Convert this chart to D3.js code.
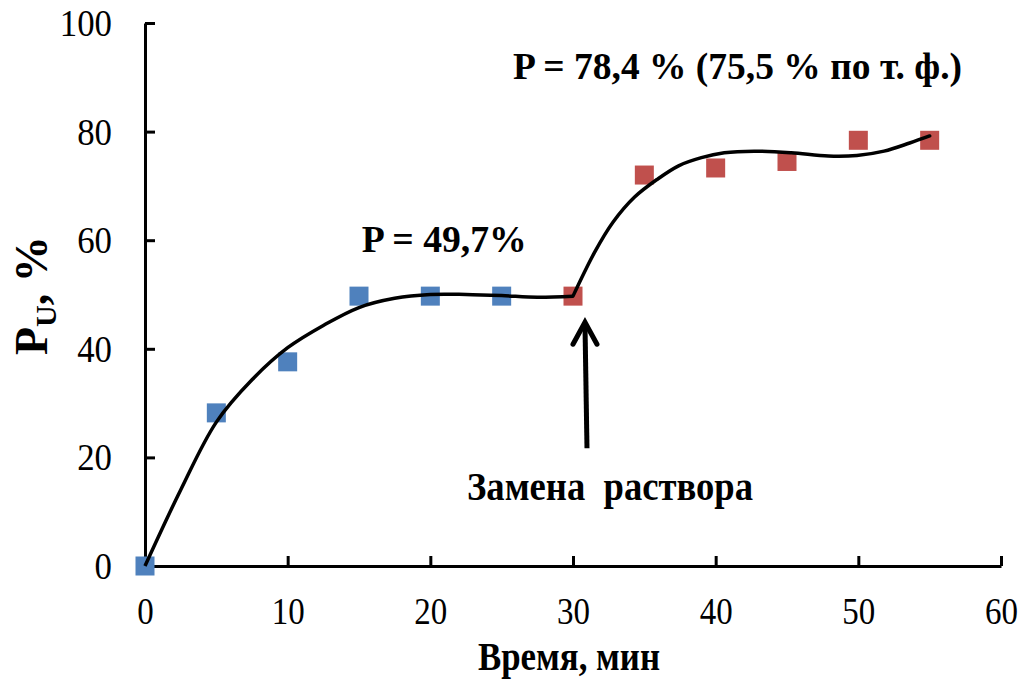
<!DOCTYPE html>
<html>
<head>
<meta charset="utf-8">
<script src="https://cdn.jsdelivr.net/npm/d3@7"></script>
<style>
  body { margin: 0; background: #fff; }
  text { font-family: "Liberation Serif", "Times New Roman", serif; }
</style>
</head>
<body>
<div id="container"></div>
<script>
// measured points
var blueTime = [0, 5, 10, 15, 20, 25]
var blueValue = [0, 28.2, 37.6, 49.7, 49.7, 49.7]
var redTime = [30, 35, 40, 45, 50, 55]
var redValue = [49.7, 72.0, 73.3, 74.5, 78.4, 78.4]

// trend lines
var trend1Time = [0, 2.5, 5, 7.5, 10, 12.5, 15, 17.5, 20, 22.5, 25, 27.5, 30]
var trend1Value = [0, 14, 26.5, 34.3, 40.2, 44.3, 47.6, 49.3, 50.0, 50.0, 49.8, 49.5, 49.7]
var trend2Time = [30, 31.5, 32.8, 34.3, 35.9, 37.4, 39, 40.6, 42.7, 45.3, 47.9, 49.9, 51.8, 53.6, 55]
var trend2Value = [49.7, 57.7, 63.3, 67.9, 71.2, 73.7, 75.2, 76.1, 76.4, 76.1, 75.5, 75.6, 76.4, 77.9, 79.2]

var xTicks = [0, 10, 20, 30, 40, 50, 60]
var yTicks = [0, 20, 40, 60, 80, 100]

main()

function main() {
    const width = 1025
    const height = 681

    const x = d3.scaleLinear()
        .domain([0, 60])
        .range([145, 1001])

    const y = d3.scaleLinear()
        .domain([0, 100])
        .range([566, 23])

    const svg = d3.create("svg")
        .attr("width", width)
        .attr("height", height)

    // axes, ticks pointing inside
    const yAxis = svg.append("g")
        .attr("transform", `translate(${x(0)},0)`)
        .call(d3.axisLeft(y).tickValues(yTicks).tickSize(-10).tickSizeOuter(0).tickPadding(33))
    const xAxis = svg.append("g")
        .attr("transform", `translate(0,${y(0)})`)
        .call(d3.axisBottom(x).tickValues(xTicks).tickSize(-10).tickSizeOuter(0))

    svg.selectAll(".domain, .tick line")
        .attr("stroke", "#000")
        .attr("stroke-width", 3)

    yAxis.selectAll(".tick text")
        .attr("font-size", 38)
        .attr("font-family", "Liberation Serif")
        .attr("fill", "#000")
        .attr("dy", "0.33em")
        .attr("textLength", d => String(d).length * 17.4)
        .attr("lengthAdjust", "spacingAndGlyphs")

    xAxis.selectAll(".tick text")
        .attr("font-size", 38)
        .attr("font-family", "Liberation Serif")
        .attr("fill", "#000")
        .attr("y", 58)
        .attr("dy", null)
        .attr("textLength", d => String(d).length * 16.5)
        .attr("lengthAdjust", "spacingAndGlyphs")

    // trend lines
    const line = d3.line()
        .x(d => x(d[0]))
        .y(d => y(d[1]))
        .curve(d3.curveCatmullRom)

    // square markers
    const size = 19
    svg.append("g")
        .selectAll("rect")
        .data(blueTime.map((t, i) => [t, blueValue[i]]))
        .enter()
        .append("rect")
        .attr("x", d => x(d[0]) - size / 2)
        .attr("y", d => y(d[1]) - size / 2)
        .attr("width", size)
        .attr("height", size)
        .attr("fill", "#4F81BD")

    svg.append("g")
        .selectAll("rect")
        .data(redTime.map((t, i) => [t, redValue[i]]))
        .enter()
        .append("rect")
        .attr("x", d => x(d[0]) - size / 2)
        .attr("y", d => y(d[1]) - size / 2)
        .attr("width", size)
        .attr("height", size)
        .attr("fill", "#C0504D")

    // lines go over the markers like the original
    svg.append("path")
        .datum(trend1Time.map((t, i) => [t, trend1Value[i]]))
        .attr("d", line)
        .attr("fill", "none")
        .attr("stroke", "#000")
        .attr("stroke-width", 3.5)

    svg.append("path")
        .datum(trend2Time.map((t, i) => [t, trend2Value[i]]))
        .attr("d", line)
        .attr("fill", "none")
        .attr("stroke", "#000")
        .attr("stroke-width", 3.5)
        .attr("stroke-linecap", "round")

    // arrow "Замена раствора"
    const tipX = x(30.84), tipY = y(44.9)
    const baseX = x(30.98), baseY = y(21.7)
    svg.append("line")
        .attr("x1", baseX).attr("y1", baseY)
        .attr("x2", tipX).attr("y2", tipY + 2)
        .attr("stroke", "#000")
        .attr("stroke-width", 5)
    svg.append("path")
        .attr("d", `M${tipX - 12},${tipY + 22} L${tipX},${tipY} L${tipX + 12},${tipY + 22}`)
        .attr("fill", "none")
        .attr("stroke", "#000")
        .attr("stroke-width", 5)
        .attr("stroke-linecap", "round")

    // annotations
    svg.append("text")
        .attr("x", x(15.2)).attr("y", y(57.9))
        .attr("font-size", 38).attr("font-weight", "bold")
        .attr("textLength", 165).attr("lengthAdjust", "spacingAndGlyphs")
        .text("P = 49,7%")

    svg.append("text")
        .attr("x", x(25.8)).attr("y", y(89.7))
        .attr("font-size", 38).attr("font-weight", "bold")
        .attr("textLength", 449).attr("lengthAdjust", "spacingAndGlyphs")
        .text("P = 78,4 % (75,5 % по т. ф.)")

    svg.append("text")
        .attr("x", x(22.57)).attr("y", y(12.2))
        .attr("font-size", 39).attr("font-weight", "bold")
        .style("white-space", "pre")
        .attr("textLength", 286).attr("lengthAdjust", "spacingAndGlyphs")
        .text("Замена  раствора")

    // axis titles
    svg.append("text")
        .attr("x", 478).attr("y", 670)
        .attr("font-size", 40).attr("font-weight", "bold")
        .attr("textLength", 182).attr("lengthAdjust", "spacingAndGlyphs")
        .text("Время, мин")

    const yTitle = svg.append("text")
        .attr("transform", "translate(47,355) rotate(-90)")
        .attr("font-size", 46).attr("font-weight", "bold")
    yTitle.append("tspan").text("P")
    yTitle.append("tspan").attr("font-size", 30).attr("dy", 9).text("U")
    yTitle.append("tspan").attr("dy", -9).text(", %")

    container.append(svg.node())
}
</script>
</body>
</html>
